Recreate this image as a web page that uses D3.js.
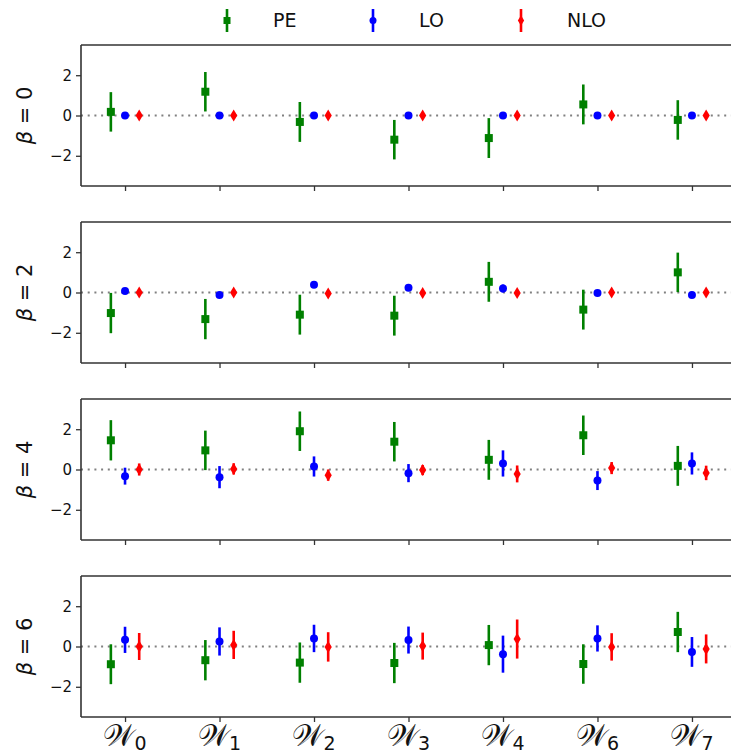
<!DOCTYPE html>
<html><head><meta charset="utf-8">
<script src="https://cdn.jsdelivr.net/npm/d3@7/dist/d3.min.js"></script>
<style>body{margin:0;background:#fff}svg{display:block}</style>
</head><body>
<script>
// ---- data ----
const categories = ["0","1","2","3","4","6","7"];
const betas = [0, 2, 4, 6];
const seriesNames = ["PE", "LO", "NLO"];
// values [beta][category]
const peVal = [
  [0.18, 1.18, -0.32, -1.20, -1.12, 0.55, -0.22],
  [-1.02, -1.32, -1.10, -1.15, 0.53, -0.85, 1.00],
  [1.45, 0.95, 1.90, 1.38, 0.48, 1.70, 0.18],
  [-0.88, -0.68, -0.80, -0.82, 0.07, -0.87, 0.72]
];
const peErr = [
  [0.98, 0.98, 0.99, 0.98, 0.99, 0.99, 0.98],
  [1.00, 1.00, 0.99, 0.99, 0.99, 0.99, 0.98],
  [1.00, 0.98, 0.98, 0.98, 0.99, 0.98, 0.99],
  [0.99, 1.00, 1.00, 1.00, 1.00, 0.98, 1.00]
];
const loVal = [
  [0, 0, 0, 0, 0, 0, 0],
  [0.08, -0.12, 0.38, 0.23, 0.20, -0.02, -0.13],
  [-0.33, -0.38, 0.15, -0.18, 0.30, -0.55, 0.30],
  [0.33, 0.25, 0.40, 0.32, -0.38, 0.40, -0.27]
];
const loErr = [
  [0.03, 0.03, 0.03, 0.03, 0.03, 0.03, 0.03],
  [0.08, 0.15, 0.15, 0.10, 0.20, 0.08, 0.10],
  [0.42, 0.55, 0.50, 0.45, 0.65, 0.47, 0.55],
  [0.65, 0.70, 0.68, 0.67, 0.92, 0.65, 0.74]
];
const nloVal = [
  [0, 0, 0, 0, 0, 0, 0],
  [0, 0, -0.05, -0.02, -0.03, 0, 0],
  [0.00, 0.03, -0.28, -0.03, -0.22, 0.07, -0.17],
  [0.00, 0.08, -0.02, 0.02, 0.37, -0.02, -0.12]
];
const nloErr = [
  [0.02, 0.02, 0.02, 0.02, 0.02, 0.02, 0.02],
  [0.03, 0.03, 0.05, 0.03, 0.03, 0.03, 0.03],
  [0.30, 0.28, 0.28, 0.25, 0.42, 0.30, 0.36],
  [0.67, 0.70, 0.73, 0.67, 0.97, 0.68, 0.72]
];
const yTicks = [-2, 0, 2];

// ---- layout ----
const W = 731, H = 756;
const svg = d3.select("body").append("svg").attr("width", W).attr("height", H);
const panelTops = [45, 222, 399, 576];
const panelH = 141;
const x = d3.scaleLinear().domain([-0.466, 6.466]).range([81, 736]);
const offsets = [-0.15, 0, 0.15];
const colors = ["#008000", "#0000ff", "#ff0000"];
const vals = [peVal, loVal, nloVal];
const errs = [peErr, loErr, nloErr];
const spine = "#333";

function marker(g, type, cx, cy, color, s) {
  if (type === 0) {
    g.append("rect").attr("x", cx - s/2).attr("y", cy - s/2).attr("width", s).attr("height", s).attr("fill", color);
  } else if (type === 1) {
    g.append("circle").attr("cx", cx).attr("cy", cy).attr("r", s/2).attr("fill", color);
  } else {
    const w = s*0.45, h = s*0.75;
    g.append("path").attr("d", `M${cx},${cy-h}L${cx+w},${cy}L${cx},${cy+h}L${cx-w},${cy}Z`).attr("fill", color);
  }
}

betas.forEach((b, bi) => {
  const top = panelTops[bi];
  const y = d3.scaleLinear().domain([-3.5, 3.5]).range([top + panelH, top]);
  const g = svg.append("g");
  // zero line
  g.append("line").attr("x1", 81).attr("x2", 736).attr("y1", y(0)).attr("y2", y(0))
    .attr("stroke", "#808080").attr("stroke-width", 2).attr("stroke-dasharray", "2 4.7");
  // data
  for (let s = 0; s < 3; s++) {
    categories.forEach((c, ci) => {
      const cx = x(ci + offsets[s]);
      const v = vals[s][bi][ci], e = errs[s][bi][ci];
      g.append("line").attr("x1", cx).attr("x2", cx).attr("y1", y(v - e)).attr("y2", y(v + e))
        .attr("stroke", colors[s]).attr("stroke-width", 2.6);
      marker(g, s, cx, y(v), colors[s], 8);
    });
  }
  // spines
  g.append("line").attr("x1", 81).attr("x2", 736).attr("y1", top).attr("y2", top).attr("stroke", spine).attr("stroke-width", 1.6);
  g.append("line").attr("x1", 81).attr("x2", 736).attr("y1", top + panelH).attr("y2", top + panelH).attr("stroke", spine).attr("stroke-width", 1.6);
  // y axis
  const ya = d3.axisLeft(y).tickValues(yTicks).tickSize(5).tickPadding(4)
    .tickFormat(d => d < 0 ? "\u2212" + Math.abs(d) : String(d));
  const yg = g.append("g").attr("transform", "translate(81,0)").call(ya);
  yg.select(".domain").attr("stroke", spine).attr("stroke-width", 1.6).attr("d", `M0,${top}V${top+panelH}`);
  yg.selectAll(".tick line").attr("stroke", spine).attr("stroke-width", 1.3);
  yg.selectAll(".tick text").attr("font-family", "DejaVu Sans").attr("font-size", 15).attr("fill", "#111");
  // x ticks
  const xa = d3.axisBottom(x).tickValues(d3.range(categories.length)).tickSize(5).tickFormat("");
  const xg = g.append("g").attr("transform", `translate(0,${top + panelH})`).call(xa);
  xg.select(".domain").remove();
  xg.selectAll(".tick line").attr("stroke", spine).attr("stroke-width", 1.3);
  // y label
  const lab = g.append("text").attr("transform", `translate(32,${y(0)}) rotate(-90)`)
    .attr("text-anchor", "middle").attr("font-family", "DejaVu Sans").attr("font-size", 21).attr("fill", "#111");
  lab.append("tspan").attr("font-style", "italic").text("\u03b2");
  lab.append("tspan").text(" = " + b);
});

// x labels
categories.forEach((c, ci) => {
  const t = svg.append("text").attr("x", x(ci)).attr("y", 746).attr("text-anchor", "middle")
    .attr("font-family", "DejaVu Serif").attr("font-size", 30).attr("fill", "#111");
  t.append("tspan").text("\u{1D4B2}");
  t.append("tspan").attr("font-family", "DejaVu Sans").attr("font-size", 19).attr("dy", 4).text(c);
});

// legend
const legX = [227, 373, 521];
seriesNames.forEach((n, i) => {
  const g = svg.append("g");
  g.append("line").attr("x1", legX[i]).attr("x2", legX[i]).attr("y1", 9).attr("y2", 32)
    .attr("stroke", colors[i]).attr("stroke-width", 2.6);
  marker(g, i, legX[i], 20.5, colors[i], 7);
  g.append("text").attr("x", legX[i] + 46).attr("y", 27).attr("font-family", "DejaVu Sans")
    .attr("font-size", 19).attr("fill", "#111").text(n);
});
</script>
</body></html>
